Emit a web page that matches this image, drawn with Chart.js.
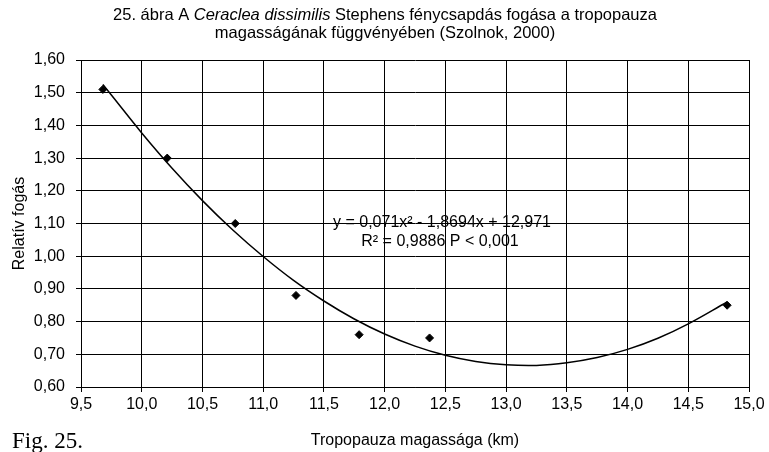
<!DOCTYPE html>
<html>
<head>
<meta charset="utf-8">
<script src="https://cdn.jsdelivr.net/npm/chart.js@4"></script>
<style>
  html, body { margin: 0; padding: 0; background: #fff; }
</style>
</head>
<body>
<canvas id="chart" width="769" height="452"></canvas>
<script>
// measured catches
const heightKm = [9.68, 10.21, 10.77, 11.27, 11.79, 12.37, 14.82];
const relCatch = [1.51, 1.30, 1.10, 0.88, 0.76, 0.75, 0.85];

// trend curve
const trendX = [9.68, 9.75, 10.0, 10.25, 10.5, 10.75, 11.0, 11.25, 11.5, 11.75, 12.0, 12.25, 12.5, 12.75, 13.0, 13.25, 13.5, 13.75, 14.0, 14.25, 14.5, 14.82];
const trendY = [1.525, 1.493, 1.377, 1.269, 1.170, 1.080, 0.999, 0.926, 0.863, 0.808, 0.762, 0.725, 0.697, 0.678, 0.668, 0.666, 0.674, 0.690, 0.715, 0.749, 0.793, 0.860];

const xRange = [9.5, 15.0, 0.5];
const yRange = [0.6, 1.6, 0.1];

const titleLine1 = ['25. ábra A ', 'Ceraclea dissimilis', ' Stephens fénycsapdás fogása a tropopauza'];
const titleLine2 = 'magasságának függvényében (Szolnok, 2000)';
const eqLines = ['y = 0,071x² - 1,8694x + 12,971', 'R² = 0,9886 P < 0,001'];

const FONT = '"Liberation Sans", Arial, sans-serif';

const textPlugin = {
  id: 'texts',
  afterDraw(chart) {
    const ctx = chart.ctx;
    ctx.save();
    ctx.fillStyle = '#000';
    ctx.textBaseline = 'middle';
    // title, with italic species name
    const fonts = ['16.5px ' + FONT, 'italic 16.5px ' + FONT, '16.5px ' + FONT];
    let total = 0;
    const widths = titleLine1.map((t, i) => { ctx.font = fonts[i]; const w = ctx.measureText(t).width; total += w; return w; });
    let x = 385 - total / 2;
    ctx.textAlign = 'left';
    titleLine1.forEach((t, i) => { ctx.font = fonts[i]; ctx.fillText(t, x, 15); x += widths[i]; });
    ctx.textAlign = 'center';
    ctx.font = '16.5px ' + FONT;
    ctx.fillText(titleLine2, 385, 33);

    // equation
    ctx.font = '16px ' + FONT;
    ctx.fillText(eqLines[0], 442, 223);
    ctx.fillText(eqLines[1], 440, 242);

    // figure label
    ctx.textAlign = 'left';
    ctx.textBaseline = 'alphabetic';
    ctx.font = '23px "Liberation Serif", "Times New Roman", serif';
    ctx.fillText('Fig. 25.', 12, 448);
    ctx.restore();
  }
};

const fmt = (v, d) => v.toFixed(d).replace('.', ',');

new Chart(document.getElementById('chart'), {
  type: 'scatter',
  data: {
    datasets: [
      {
        label: 'Relatív fogás',
        data: heightKm.map((h, i) => ({ x: h, y: relCatch[i] })),
        pointStyle: 'rectRot',
        pointRadius: 4,
        backgroundColor: '#000',
        borderColor: '#000',
        order: 0
      },
      {
        label: 'trend',
        type: 'line',
        data: trendX.map((h, i) => ({ x: h, y: trendY[i] })),
        borderColor: '#000',
        borderWidth: 1.5,
        pointRadius: 0,
        tension: 0.4,
        fill: false,
        order: 1
      }
    ]
  },
  options: {
    responsive: false,
    animation: false,
    layout: { padding: { top: 60, right: 20, bottom: 0, left: 0 } },
    plugins: {
      legend: { display: false },
      tooltip: { enabled: false }
    },
    scales: {
      x: {
        type: 'linear',
        min: xRange[0],
        max: xRange[1],
        afterFit: s => { s.height = 65; },
        ticks: {
          stepSize: xRange[2],
          color: '#000',
          padding: 3,
          maxRotation: 0,
          font: { family: FONT, size: 16 },
          callback: v => fmt(v, 1)
        },
        grid: { color: '#000', tickColor: '#000', tickLength: 5, lineWidth: 1 },
        border: { color: '#000' },
        title: {
          display: true,
          text: 'Tropopauza magassága (km)',
          color: '#000',
          font: { family: FONT, size: 16 },
          padding: { top: 0, bottom: 2 }
        }
      },
      y: {
        min: yRange[0],
        max: yRange[1],
        afterFit: s => { s.width = 81; },
        ticks: {
          stepSize: yRange[2],
          color: '#000',
          padding: 11,
          font: { family: FONT, size: 16 },
          callback: v => fmt(v, 2)
        },
        grid: { color: '#000', tickColor: '#000', tickLength: 5, lineWidth: 1 },
        border: { color: '#000' },
        title: {
          display: true,
          text: 'Relatív fogás',
          color: '#000',
          font: { family: FONT, size: 16 },
          padding: { top: 10, bottom: 0 }
        }
      }
    }
  },
  plugins: [textPlugin]
});
</script>
</body>
</html>
